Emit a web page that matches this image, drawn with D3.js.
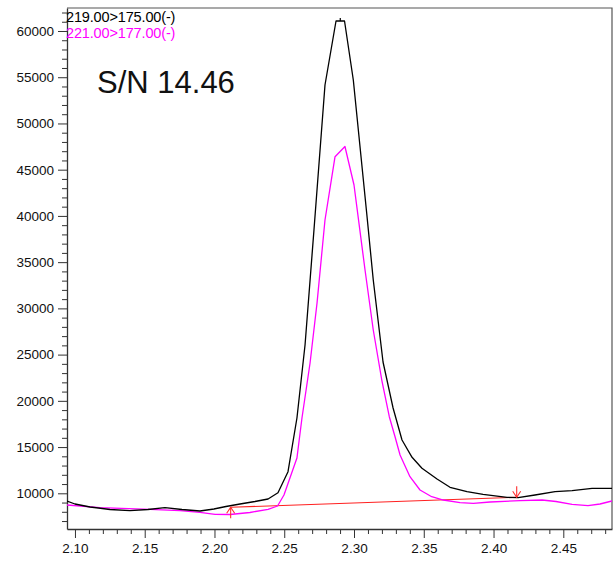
<!DOCTYPE html>
<html>
<head>
<meta charset="utf-8">
<script src="https://cdn.jsdelivr.net/npm/d3@7/dist/d3.min.js"></script>
<style>
  body { margin: 0; background: #fff; }
  svg { display: block; }
  .axis text { font-family: "Liberation Sans", Arial, sans-serif; font-size: 13.5px; fill: #111; }
</style>
</head>
<body>
<svg id="chart" width="615" height="561"></svg>
<script>
// MRM transition 219.00 > 175.00 (retention time in min, intensity)
const times219 = [2.0943, 2.1000, 2.1108, 2.1251, 2.1394, 2.1523, 2.1645, 2.1767, 2.1896, 2.1996,
  2.2082, 2.2183, 2.2290, 2.2384, 2.2455, 2.2527, 2.2591, 2.2649, 2.2713, 2.2792,
  2.2871, 2.2932, 2.2995, 2.3091, 2.3138, 2.3208, 2.3280, 2.3344, 2.3416, 2.3487,
  2.3595, 2.3688, 2.3810, 2.3925, 2.4097, 2.4176, 2.4297, 2.4441, 2.4563, 2.4706, 2.4849];
const values219 = [9167, 8843, 8518, 8248, 8118, 8248, 8443, 8248, 8086, 8302,
  8572, 8843, 9113, 9384, 10065, 12336, 18144, 26039, 38476, 54158,
  61080, 61080, 54699, 40282, 33069, 24200, 19225, 15764, 13893, 12704,
  11547, 10649, 10173, 9892, 9567, 9524, 9816, 10173, 10281, 10541, 10541];

// MRM transition 221.00 > 177.00
const times221 = [2.0943, 2.1179, 2.1538, 2.1753, 2.1896, 2.2004, 2.2111, 2.2254, 2.2384, 2.2452,
  2.2498, 2.2591, 2.2627, 2.2685, 2.2735, 2.2792, 2.2864, 2.2935, 2.3000, 2.3079,
  2.3138, 2.3199, 2.3253, 2.3294, 2.3330, 2.3401, 2.3473, 2.3557, 2.3640, 2.3760,
  2.3855, 2.3975, 2.4190, 2.4348, 2.4448, 2.4563, 2.4677, 2.4763, 2.4849];
const values221 = [8735, 8443, 8270, 8118, 7945, 7729, 7707, 7923, 8270, 8627,
  9816, 13818, 18144, 24092, 30581, 39558, 46403, 47507, 43343, 34150,
  27661, 22253, 18284, 16121, 14142, 11795, 10357, 9632, 9275, 8983,
  8919, 9059, 9200, 9275, 9113, 8810, 8659, 8843, 9167];

// Integration baseline (start, end)
const baselineTimes = [2.2116, 2.4166];
const baselineValues = [8486, 9567];

const traceLabels = ["219.00>175.00(-)", "221.00>177.00(-)"];
const traceColors = ["#000000", "#ff00ff"];
const snLabel = "S/N 14.46";

const xMajorTicks = [2.10, 2.15, 2.20, 2.25, 2.30, 2.35, 2.40, 2.45];
const yMajorTicks = [10000, 15000, 20000, 25000, 30000, 35000, 40000, 45000, 50000, 55000, 60000];
const xDomain = [2.0943, 2.4849];
const yDomain = [6139, 62487];

const svg = d3.select("#chart");
const plotLeft = 67, plotRight = 612, plotTop = 8, plotBottom = 529;

const x = d3.scaleLinear().domain(xDomain).range([plotLeft, plotRight]);
const y = d3.scaleLinear().domain(yDomain).range([plotBottom, plotTop]);

svg.append("defs").append("clipPath").attr("id", "plotClip")
  .append("rect").attr("x", plotLeft).attr("y", plotTop)
  .attr("width", plotRight - plotLeft).attr("height", plotBottom - plotTop);

// frame: top and right edges
svg.append("path")
  .attr("d", `M${plotLeft},${plotTop}H${plotRight}V${plotBottom}`)
  .attr("fill", "none").attr("stroke", "#555").attr("stroke-width", 1.2);

// minor ticks
const xMinor = d3.range(210, 249).map(d => d / 100).filter(d => !xMajorTicks.some(m => Math.abs(m - d) < 1e-9));
const yMinor = d3.range(7000, 62001, 1000).filter(d => d % 5000 !== 0);

svg.append("g").attr("class", "axis").attr("transform", `translate(0,${plotBottom})`)
  .call(d3.axisBottom(x).tickValues(xMinor).tickSize(5).tickFormat(""))
  .call(g => g.select(".domain").remove())
  .selectAll("line").attr("stroke", "#333");

svg.append("g").attr("class", "axis").attr("transform", `translate(${plotLeft},0)`)
  .call(d3.axisLeft(y).tickValues(yMinor).tickSize(5).tickFormat(""))
  .call(g => g.select(".domain").remove())
  .selectAll("line").attr("stroke", "#333");

// major axes
svg.append("g").attr("class", "axis").attr("transform", `translate(0,${plotBottom})`)
  .call(d3.axisBottom(x).tickValues(xMajorTicks).tickFormat(d3.format(".2f")).tickSize(9).tickSizeOuter(0).tickPadding(5))
  .call(g => g.select(".domain").attr("stroke", "#333").attr("stroke-width", 1.3))
  .call(g => g.selectAll("line").attr("stroke", "#333"));

svg.append("g").attr("class", "axis").attr("transform", `translate(${plotLeft},0)`)
  .call(d3.axisLeft(y).tickValues(yMajorTicks).tickFormat(d3.format("d")).tickSize(9).tickSizeOuter(0).tickPadding(4))
  .call(g => g.select(".domain").attr("stroke", "#333").attr("stroke-width", 1.3))
  .call(g => g.selectAll("line").attr("stroke", "#333"));

const plot = svg.append("g").attr("clip-path", "url(#plotClip)");
const line = d3.line().x(d => x(d[0])).y(d => y(d[1]));

// baseline
const base = d3.zip(baselineTimes, baselineValues);
plot.append("path").datum(base).attr("d", line)
  .attr("fill", "none").attr("stroke", "#ff2020").attr("stroke-width", 1.1);

// traces
const traces = [d3.zip(times221, values221), d3.zip(times219, values219)];
const traceCols = [traceColors[1], traceColors[0]];
traces.forEach((pts, i) => {
  plot.append("path").datum(pts).attr("d", line)
    .attr("fill", "none").attr("stroke", traceCols[i]).attr("stroke-width", 1.3)
    .attr("stroke-linejoin", "round");
});

// apex marker on the 219 trace
const maxV = d3.max(values219);
const topIdx = values219.map((v, i) => v === maxV ? i : -1).filter(i => i >= 0);
const apexT = d3.mean(topIdx, i => times219[i]);
plot.append("line")
  .attr("x1", x(apexT)).attr("x2", x(apexT))
  .attr("y1", y(maxV) - 3).attr("y2", y(maxV))
  .attr("stroke", "#000").attr("stroke-width", 1.2);

// baseline start / end arrows
function arrow(t, v, dir) {
  const px = x(t), py = y(v);
  const tail = py + dir * 11;
  const g = svg.append("g").attr("stroke", "#ff3030").attr("stroke-width", 1.1).attr("fill", "none");
  g.append("line").attr("x1", px).attr("x2", px).attr("y1", tail).attr("y2", py);
  g.append("path").attr("d", `M${px - 4},${py + dir * 6}L${px},${py}L${px + 4},${py + dir * 6}`);
}
arrow(baselineTimes[0], baselineValues[0], 1);
arrow(baselineTimes[1], baselineValues[1], -1);

// trace labels
traceLabels.forEach((t, i) => {
  svg.append("text").attr("x", 66).attr("y", 21.5 + i * 16)
    .attr("font-family", "Liberation Sans, Arial, sans-serif").attr("font-size", 14.5)
    .attr("letter-spacing", -0.15)
    .attr("fill", traceColors[i]).text(t);
});

svg.append("text").attr("x", 97).attr("y", 92.5)
  .attr("font-family", "Liberation Sans, Arial, sans-serif").attr("font-size", 31)
  .attr("fill", "#111").text(snLabel);
</script>
</body>
</html>
